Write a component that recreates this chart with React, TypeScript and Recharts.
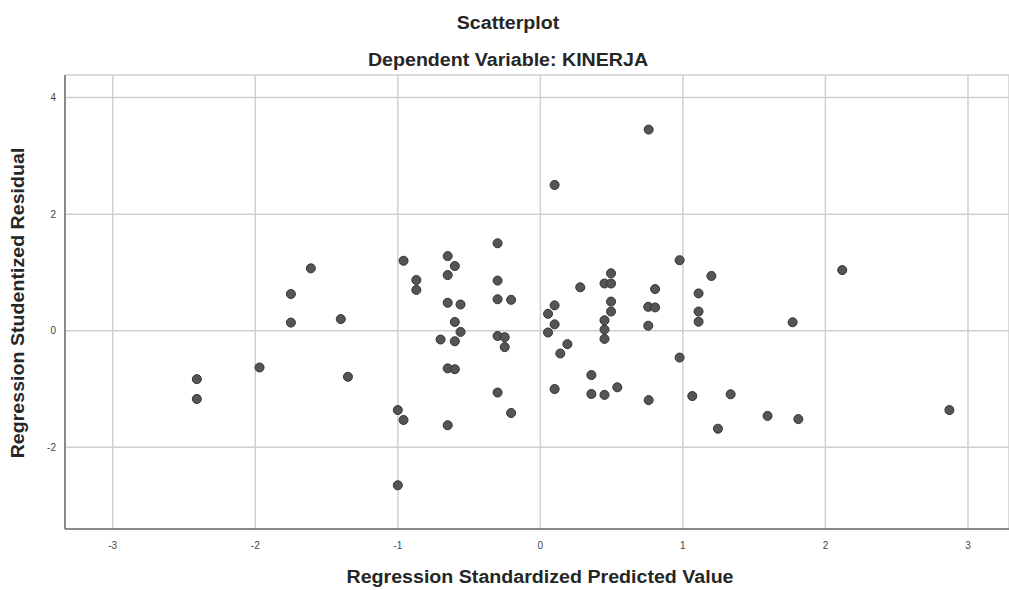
import {
  ScatterChart,
  Scatter,
  XAxis,
  YAxis,
  CartesianGrid,
} from "recharts";

// Regression Standardized Predicted Value
const predicted = [
  -2.41, -2.41, -1.97, -1.75, -1.75, -1.61, -1.4, -1.35,
  -1.0, -0.96, -1.0, -0.96, -0.87, -0.87,
  -0.65, -0.6, -0.65, -0.65, -0.56, -0.6, -0.56, -0.7, -0.6, -0.65, -0.6, -0.65,
  -0.3, -0.3, -0.3, -0.205, -0.3, -0.25, -0.25, -0.3, -0.205,
  0.1, 0.1, 0.054, 0.1, 0.054, 0.19, 0.14, 0.1,
  0.28, 0.358, 0.358, 0.45, 0.54,
  0.496, 0.45, 0.496, 0.496, 0.496, 0.45, 0.45, 0.45,
  0.76, 0.757, 0.805, 0.805, 0.757, 0.76,
  0.977, 0.977, 1.2, 1.11, 1.11, 1.11, 1.066, 1.335, 1.246,
  1.594, 1.77, 1.81, 2.118, 2.87,
];

// Regression Studentized Residual
const residual = [
  -0.83, -1.17, -0.63, 0.63, 0.14, 1.07, 0.2, -0.79,
  -1.36, -1.53, -2.65, 1.2, 0.87, 0.7,
  1.28, 1.11, 0.955, 0.48, 0.45, 0.15, -0.02, -0.15, -0.18, -0.645, -0.66, -1.62,
  1.5, 0.86, 0.54, 0.53, -0.09, -0.11, -0.28, -1.06, -1.41,
  2.5, 0.435, 0.29, 0.11, -0.03, -0.23, -0.39, -1.0,
  0.745, -0.76, -1.085, -1.1, -0.97,
  0.985, 0.81, 0.81, 0.5, 0.33, 0.18, 0.02, -0.14,
  3.45, 0.41, 0.4, 0.715, 0.086, -1.19,
  1.21, -0.46, 0.94, 0.64, 0.33, 0.155, -1.12, -1.09, -1.68,
  -1.46, 0.145, -1.515, 1.04, -1.36,
];

const xTicks = [-3, -2, -1, 0, 1, 2, 3];
const yTicks = [-2, 0, 2, 4];

const points = predicted.map((x, i) => ({ x, y: residual[i] }));

const font = "'Liberation Sans', Arial, sans-serif";

// bold label centred on (cx, cy)
function Caption({
  text,
  cx,
  cy,
  rotate = 0,
}: {
  text: string;
  cx: number;
  cy: number;
  rotate?: number;
}) {
  return (
    <div
      style={{
        position: "absolute",
        left: cx,
        top: cy,
        transform: `translate(-50%, -50%) rotate(${rotate}deg) scaleX(1.09)`,
        whiteSpace: "nowrap",
        fontWeight: "bold",
        fontSize: 18,
        lineHeight: 1,
      }}
    >
      {text}
    </div>
  );
}

export default function App() {
  return (
    <div
      style={{
        position: "absolute",
        left: 0,
        top: 0,
        width: 1009,
        height: 590,
        background: "#fff",
        fontFamily: font,
        color: "#262626",
        overflow: "hidden",
      }}
    >
      <ScatterChart
        width={1009}
        height={590}
        margin={{ top: 75, right: 0, bottom: 31, left: 0 }}
      >
        <CartesianGrid stroke="#cfcfcf" strokeWidth={1.5} />
        <XAxis
          type="number"
          dataKey="x"
          domain={[-3.335, 3.288]}
          ticks={xTicks}
          allowDataOverflow
          height={30}
          stroke="#6f6f6f"
          strokeWidth={1.5}
          tickLine={false}
          tickSize={4}
          tickMargin={9}
          tick={{ fill: "#444", fontSize: 10, fontFamily: font }}
        />
        <YAxis
          type="number"
          dataKey="y"
          domain={[-3.4, 4.386]}
          ticks={yTicks}
          allowDataOverflow
          width={65}
          stroke="#6f6f6f"
          strokeWidth={1.5}
          tickLine={false}
          tickSize={4}
          tickMargin={5}
          tick={{ fill: "#444", fontSize: 10, fontFamily: font }}
        />
        <Scatter
          data={points}
          fill="#555"
          stroke="#333"
          strokeWidth={1}
          shape="circle"
          isAnimationActive={false}
        />
      </ScatterChart>

      <Caption text="Scatterplot" cx={508} cy={23} />
      <Caption text="Dependent Variable: KINERJA" cx={508} cy={60} />
      <Caption text="Regression Standardized Predicted Value" cx={540} cy={577} />
      <Caption text="Regression Studentized Residual" cx={18} cy={303} rotate={-90} />
    </div>
  );
}
